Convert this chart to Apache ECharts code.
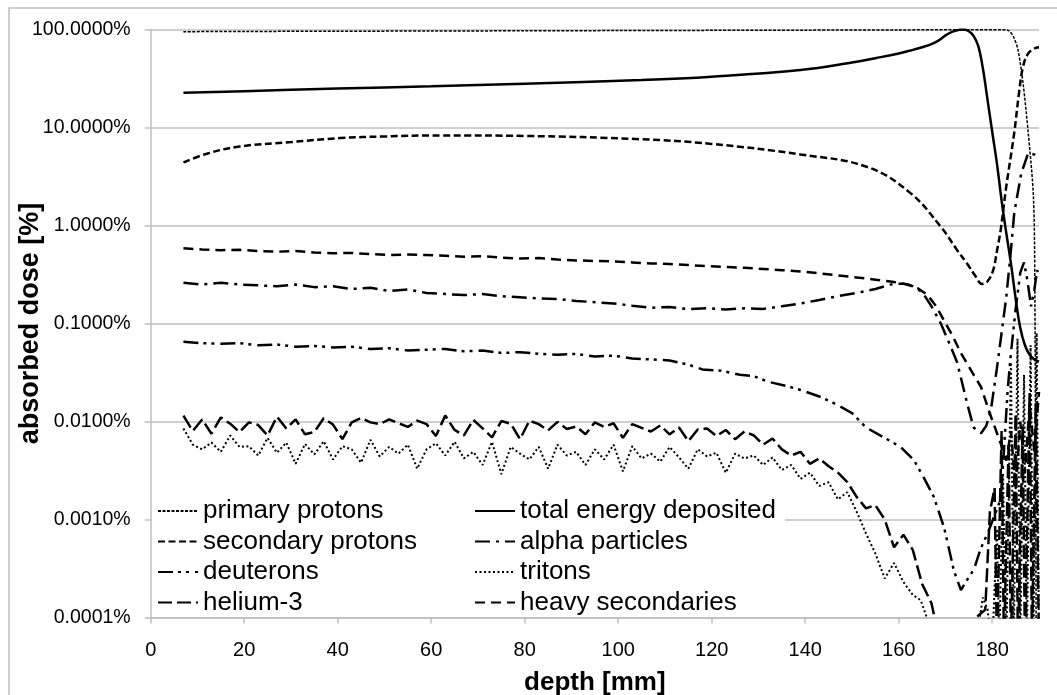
<!DOCTYPE html>
<html>
<head>
<meta charset="utf-8">
<script src="https://cdn.jsdelivr.net/npm/echarts@6/dist/echarts.min.js"></script>
<style>
html,body{margin:0;padding:0;background:#fff;}
#chart{width:1057px;height:695px;}
</style>
</head>
<body>
<div id="chart"></div>
<script>
// ---- data (depth in mm, absorbed dose in %) ----
const xTicks = [0, 20, 40, 60, 80, 100, 120, 140, 160, 180];
const yTicks = ['100.0000%', '10.0000%', '1.0000%', '0.1000%', '0.0100%', '0.0010%', '0.0001%'];

const primaryDepth = [7, 20, 40, 60, 80, 100, 120, 140, 160, 175, 182, 183.4, 184.5, 185.5, 186.6, 187.7, 188.8, 189.1, 189.4];
const primaryDose  = [95, 95.5, 96, 96.5, 97, 97.5, 98, 98.5, 99, 99.5, 99.5, 98, 85, 62, 28, 8.8, 2, 0.3, 0.00005];

const totalDepth = [7, 20, 40, 60, 80, 105, 120, 139, 150, 155, 160, 163, 165, 167, 168.5, 170, 171.5, 173, 174, 175, 176, 177, 178, 179, 180, 181, 182, 183, 184, 185, 186, 187, 188, 189, 190];
const totalDose  = [22.6, 23.5, 25, 26.3, 28, 30.5, 33, 38.6, 46, 51, 57, 62, 66, 71, 77, 87, 95, 99.5, 100, 96, 86, 68, 40, 19, 9, 4.3, 1.8, 0.84, 0.41, 0.18, 0.09, 0.06, 0.048, 0.043, 0.041];

const secProtonDepth = [7, 12, 19, 30, 40.5, 50, 62, 80, 104.7, 120, 139, 153.3, 162.5, 169, 172.5, 174.6, 176.5, 177.8, 179, 180.2, 181, 181.8, 183, 184.7, 185.7, 186.6, 187.7, 189, 190];
const secProtonDose  = [4.4, 5.4, 6.4, 7.1, 7.8, 8.1, 8.3, 8.2, 7.6, 6.8, 5.3, 3.95, 2.14, 0.97, 0.56, 0.41, 0.3, 0.253, 0.27, 0.35, 0.55, 0.9, 2.5, 8.8, 22, 42, 57, 64, 66];

const heavyDepth = [7, 11, 15, 19, 23, 27, 31, 35, 39, 43, 47, 51, 55, 59, 63, 67, 71, 75, 79, 83, 87, 91, 95, 99, 103, 107, 111, 115, 119, 123, 127, 131, 135, 139, 143, 147, 151, 155, 159, 162, 164, 166.2, 168, 169.6, 171.5, 173.3, 175.5, 177.6, 179.5, 181.8, 183, 184, 185, 186, 187, 188, 189, 190];
const heavyDose  = [0.585, 0.57, 0.56, 0.565, 0.55, 0.54, 0.55, 0.53, 0.52, 0.525, 0.51, 0.5, 0.505, 0.5, 0.49, 0.48, 0.485, 0.47, 0.46, 0.465, 0.45, 0.44, 0.435, 0.43, 0.42, 0.41, 0.405, 0.395, 0.385, 0.378, 0.37, 0.36, 0.35, 0.34, 0.325, 0.31, 0.295, 0.28, 0.265, 0.25, 0.23, 0.195, 0.15, 0.109, 0.075, 0.05, 0.033, 0.0225, 0.012, 0.006, 0.004, 0.008, 0.002, 0.01, 0.003, 0.015, 0.005, 0.02];

const alphaDepth = [7, 11, 15, 19, 23, 27, 31, 35, 39, 43, 47, 51, 55, 59, 63, 67, 71, 75, 79, 83, 87, 91, 95, 99, 103, 107, 111, 115, 119, 123, 127, 131, 135, 139, 143, 147, 151, 155, 159, 161, 163, 165, 167, 169, 171, 172.5, 174.6, 176, 177.6, 178.7, 179.7, 181, 181.8, 183, 184, 184.7, 186.2, 187.7, 189, 190];
const alphaDose  = [0.26, 0.25, 0.26, 0.25, 0.245, 0.24, 0.25, 0.235, 0.24, 0.225, 0.232, 0.215, 0.222, 0.205, 0.2, 0.195, 0.2, 0.19, 0.185, 0.18, 0.178, 0.17, 0.165, 0.16, 0.152, 0.145, 0.147, 0.14, 0.143, 0.139, 0.143, 0.141, 0.15, 0.16, 0.174, 0.19, 0.205, 0.225, 0.255, 0.255, 0.24, 0.21, 0.15, 0.1, 0.06, 0.04, 0.0155, 0.0087, 0.0076, 0.009, 0.013, 0.035, 0.068, 0.186, 0.56, 1.34, 3.4, 5.5, 5.3, 5.0];

const deuteronDepth = [7, 11, 15, 19, 23, 27, 31, 35, 39, 43, 47, 51, 55, 59, 63, 67, 71, 75, 79, 83, 87, 91, 95, 99, 103, 107, 111, 115, 118, 122, 126, 129, 132, 136, 139, 143, 146, 150, 153, 157, 160.4, 163.3, 165.5, 167.5, 169.7, 171.8, 173.3, 174.8, 176.1, 177.5, 179, 181.8, 182.5, 183.3, 184, 185, 186, 186.8, 187.5, 188.3, 189, 189.6, 190];
const deuteronDose  = [0.065, 0.063, 0.062, 0.063, 0.06, 0.061, 0.058, 0.059, 0.057, 0.058, 0.055, 0.056, 0.053, 0.054, 0.055, 0.052, 0.053, 0.05, 0.051, 0.049, 0.048, 0.049, 0.046, 0.047, 0.044, 0.043, 0.042, 0.038, 0.034, 0.033, 0.03, 0.029, 0.0255, 0.023, 0.021, 0.018, 0.0155, 0.0122, 0.0087, 0.0068, 0.0055, 0.004, 0.0026, 0.0017, 0.00083, 0.0003, 0.00019, 0.00025, 0.00031, 0.0005, 0.00072, 0.0016, 0.005, 0.021, 0.05, 0.14, 0.33, 0.42, 0.28, 0.15, 0.22, 0.35, 0.3];

const helium3Depth = [7, 9, 11, 13, 15, 17, 19, 21, 23, 25, 27, 29, 31, 33, 35, 37, 39, 41, 43, 45, 47, 49, 51, 53, 55, 57, 59, 61, 63, 65, 67, 69, 71, 73, 75, 77, 79, 81, 83, 85, 87, 89, 91, 93, 95, 97, 99, 101, 103, 105, 107, 109, 111, 113, 115, 117, 119, 121, 123, 125, 127, 129, 131, 133, 135, 137, 139, 141, 143, 145, 147, 149, 151, 153, 155, 157, 159, 161, 163, 165, 167, 169, 178.5, 179.5, 180.5, 181, 182, 182.5, 183.5, 184, 185, 185.5, 186.5, 187, 188, 188.5, 189.3, 190];
const helium3Dose  = [0.0115, 0.008, 0.0105, 0.0075, 0.011, 0.0095, 0.0078, 0.0098, 0.0092, 0.0072, 0.0112, 0.0085, 0.0105, 0.0074, 0.0078, 0.0108, 0.0093, 0.0066, 0.0098, 0.0109, 0.0098, 0.0094, 0.0105, 0.0096, 0.0088, 0.0102, 0.0094, 0.0071, 0.0115, 0.0082, 0.0072, 0.0104, 0.0085, 0.0069, 0.0101, 0.0095, 0.0066, 0.0102, 0.0094, 0.0081, 0.0099, 0.0084, 0.0089, 0.0074, 0.0098, 0.0088, 0.0096, 0.0068, 0.0094, 0.0086, 0.0079, 0.0091, 0.0074, 0.0087, 0.0063, 0.0083, 0.0085, 0.0071, 0.0082, 0.0066, 0.0079, 0.0072, 0.0058, 0.0067, 0.0052, 0.0045, 0.0049, 0.0037, 0.0042, 0.0035, 0.003, 0.0024, 0.0017, 0.0013, 0.0014, 0.001, 0.00052, 0.0007, 0.00049, 0.00022, 0.00014, 0.00005, 0.00012, 0.0012, 0.0021, 0.00005, 0.008, 0.00005, 0.006, 0.00005, 0.012, 0.00005, 0.009, 0.00005, 0.02, 0.00005, 0.015, 0.00005];

const tritonDepth = [7, 9, 11, 13, 15, 17, 19, 21, 23, 25, 27, 29, 31, 33, 35, 37, 39, 41, 43, 45, 47, 49, 51, 53, 55, 57, 59, 61, 63, 65, 67, 69, 71, 73, 75, 77, 79, 81, 83, 85, 87, 89, 91, 93, 95, 97, 99, 101, 103, 105, 107, 109, 111, 113, 115, 117, 119, 121, 123, 125, 127, 129, 131, 133, 135, 137, 139, 141, 143, 145, 147, 149, 151, 153, 155, 157, 159, 161, 163, 164.7, 166, 167, 177, 178, 179, 180, 181, 181.5, 182.3, 183, 184, 184.6, 185.4, 186, 186.8, 187.4, 188.2, 188.8, 189.5, 190];
const tritonDose  = [0.0085, 0.0058, 0.0052, 0.0061, 0.0049, 0.0072, 0.0055, 0.0056, 0.0045, 0.0068, 0.0048, 0.0061, 0.0037, 0.0059, 0.0046, 0.0063, 0.0041, 0.0056, 0.0052, 0.0038, 0.0065, 0.0044, 0.0055, 0.0047, 0.0058, 0.0033, 0.0052, 0.006, 0.0045, 0.0062, 0.0042, 0.0049, 0.0036, 0.0062, 0.0029, 0.0055, 0.0047, 0.0041, 0.0055, 0.0033, 0.0058, 0.0045, 0.0049, 0.0036, 0.0052, 0.0041, 0.0058, 0.0031, 0.0056, 0.0042, 0.0047, 0.0039, 0.0055, 0.0043, 0.0033, 0.0052, 0.0044, 0.0048, 0.003, 0.0047, 0.0042, 0.0045, 0.0036, 0.0043, 0.0032, 0.0036, 0.0026, 0.003, 0.0022, 0.0024, 0.0016, 0.0019, 0.0012, 0.00072, 0.00045, 0.00025, 0.00036, 0.00023, 0.00017, 0.00015, 0.0001, 0.00005, 0.00008, 0.00016, 0.00012, 0.00005, 0.0008, 0.00005, 0.003, 0.00005, 0.04, 0.00005, 0.07, 0.00005, 0.03, 0.00005, 0.06, 0.00005, 0.08, 0.00005];

const names = {
  primary: 'primary protons', secondary: 'secondary protons', deuterons: 'deuterons', helium3: 'helium-3',
  total: 'total energy deposited', alpha: 'alpha particles', tritons: 'tritons', heavy: 'heavy secondaries'
};
// ---- end data ----

function zip(xs, ys) { return xs.map((x, i) => [x, ys[i]]); }

const FONT = 'Liberation Sans, Arial, sans-serif';
const chart = echarts.init(document.getElementById('chart'), null, {renderer: 'canvas'});

function lineSeries(name, xs, ys, type, width, smooth) {
  return {
    name: name, type: 'line', data: zip(xs, ys), symbol: 'none', showSymbol: false,
    smooth: smooth, clip: true,
    lineStyle: {color: '#000', width: width, type: type, cap: 'butt'},
    itemStyle: {color: '#000'},
    emphasis: {disabled: true}
  };
}

const legendCommon = {
  orient: 'vertical', top: 498, padding: 0,
  itemWidth: 40, itemHeight: 12, itemGap: 4.5, selectedMode: false,
  itemStyle: {opacity: 0, borderWidth: 0},
  textStyle: {fontFamily: FONT, fontSize: 26, color: '#000', lineHeight: 26}
};

const option = {
  animation: false,
  backgroundColor: '#fff',
  grid: {left: 150.7, top: 29.5, right: 18, bottom: 77.5, containLabel: false, outerBoundsMode: 'none'},
  xAxis: {
    type: 'value', min: 0, max: 190, interval: 20,
    name: 'depth [mm]', nameLocation: 'middle', nameGap: 52, nameMoveOverlap: false,
    nameTextStyle: {fontFamily: FONT, fontSize: 26, fontWeight: 'bold', color: '#000'},
    axisLine: {show: true, lineStyle: {color: '#bfbfbf', width: 1.5}},
    axisTick: {show: true, inside: false, length: 6, lineStyle: {color: '#bfbfbf', width: 1.5}},
    axisLabel: {fontFamily: FONT, fontSize: 20, color: '#000', margin: 23, showMaxLabel: false,
      formatter: v => (xTicks.indexOf(v) >= 0 ? String(v) : '')},
    splitLine: {show: false}
  },
  yAxis: {
    type: 'log', logBase: 10, min: 0.0001, max: 100,
    name: 'absorbed dose [%]', nameLocation: 'middle', nameGap: 107, nameMoveOverlap: false,
    nameTextStyle: {fontFamily: FONT, fontSize: 27, fontWeight: 'bold', color: '#000'},
    axisLine: {show: true, lineStyle: {color: '#bfbfbf', width: 1.5}},
    axisTick: {show: true, inside: false, length: 6, lineStyle: {color: '#bfbfbf', width: 1.5}},
    axisLabel: {fontFamily: FONT, fontSize: 19.5, color: '#000', margin: 20,
      formatter: v => {
        const e = Math.round(Math.log10(v));
        const idx = 2 - e;
        return yTicks[idx] !== undefined ? yTicks[idx] : '';
      }},
    splitLine: {show: true, lineStyle: {color: '#bfbfbf', width: 1.5}},
    minorTick: {show: false}
  },
  legend: [
    Object.assign({}, legendCommon, {left: 157, data: [names.primary, names.secondary, names.deuterons, names.helium3]}),
    Object.assign({}, legendCommon, {left: 474, data: [names.total, names.alpha, names.tritons, names.heavy]})
  ],
  graphic: [
    {type: 'rect', z: -10, silent: true, shape: {x: 9, y: 8, width: 1200, height: 900},
     style: {fill: 'none', stroke: '#bfbfbf', lineWidth: 1.5}},
    {type: 'rect', z: 3, silent: true, shape: {x: 152, y: 497, width: 633, height: 119},
     style: {fill: '#fff', stroke: 'none'}}
  ],
  series: [
    lineSeries(names.primary, primaryDepth, primaryDose, [3, 1.5], 1.5, 0.3),
    lineSeries(names.secondary, secProtonDepth, secProtonDose, [7, 3.5], 2.5, 0.4),
    lineSeries(names.deuterons, deuteronDepth, deuteronDose, [15, 5, 3, 5, 3, 6], 2.5, false),
    lineSeries(names.helium3, helium3Depth, helium3Dose, [14, 5], 2.5, false),
    lineSeries(names.total, totalDepth, totalDose, 'solid', 2.5, 0.4),
    lineSeries(names.alpha, alphaDepth, alphaDose, [15, 6, 3, 6], 2.5, false),
    lineSeries(names.tritons, tritonDepth, tritonDose, [2, 2.5], 2, false),
    lineSeries(names.heavy, heavyDepth, heavyDose, [10, 6], 2.5, false)
  ]
};
chart.setOption(option);
</script>
</body>
</html>
